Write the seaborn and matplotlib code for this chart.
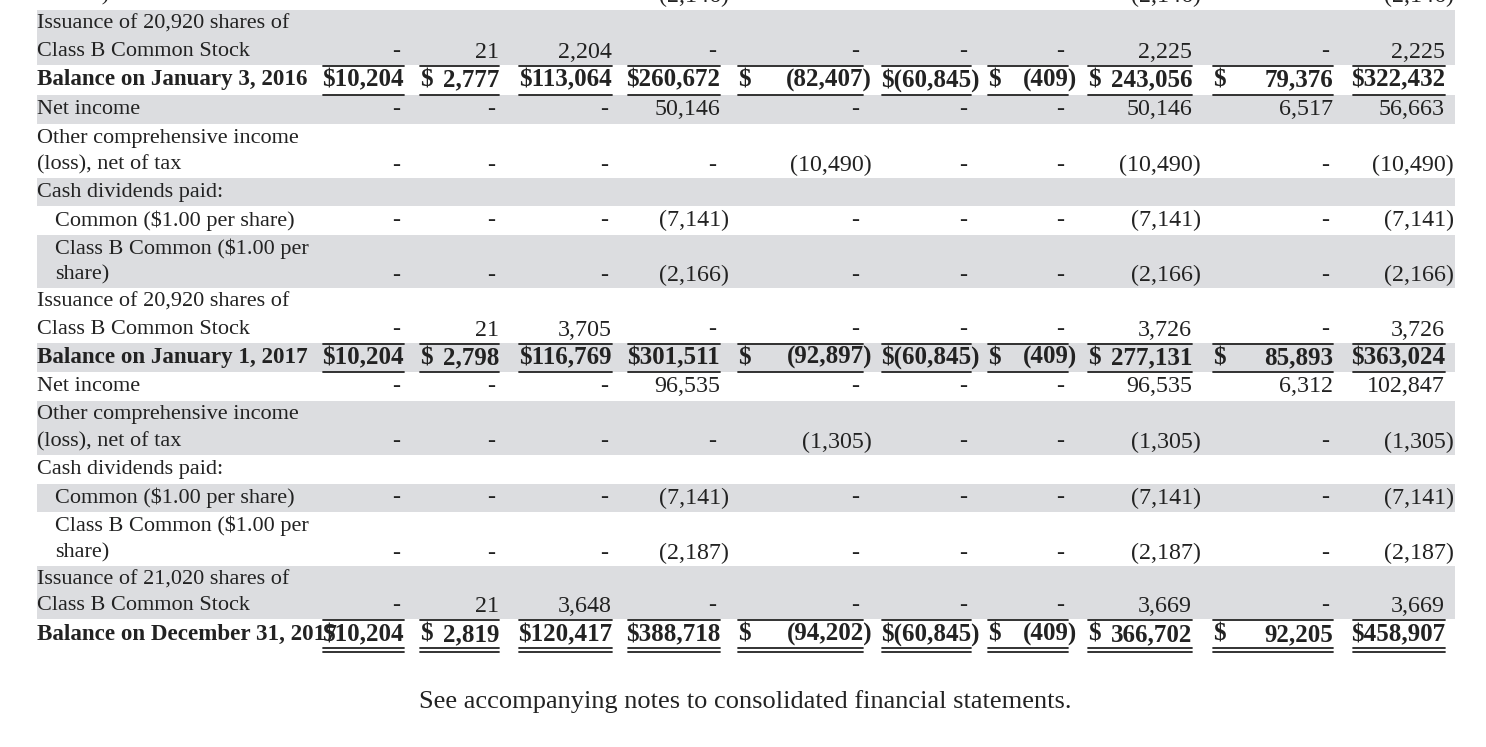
import matplotlib
matplotlib.use('Agg')
import matplotlib.pyplot as plt
import seaborn as sns

sns.set_theme(style='white')
plt.rcParams['font.family'] = ['Liberation Serif', 'DejaVu Serif']

# row labels (list of lines), indent flag, bold flag, shaded flag, top/bottom px
labels = [['share)'], ['Issuance of 20,920 shares of', 'Class B Common Stock'],
          ['Balance on January 3, 2016'], ['Net income'],
          ['Other comprehensive income', '(loss), net of tax'], ['Cash dividends paid:'],
          ['Common ($1.00 per share)'], ['Class B Common ($1.00 per', 'share)'],
          ['Issuance of 20,920 shares of', 'Class B Common Stock'],
          ['Balance on January 1, 2017'], ['Net income'],
          ['Other comprehensive income', '(loss), net of tax'], ['Cash dividends paid:'],
          ['Common ($1.00 per share)'], ['Class B Common ($1.00 per', 'share)'],
          ['Issuance of 21,020 shares of', 'Class B Common Stock'],
          ['Balance on December 31, 2017']]
indent = [1, 0, 0, 0, 0, 0, 1, 1, 0, 0, 0, 0, 0, 1, 1, 0, 0]
bold = [0, 0, 1, 0, 0, 0, 0, 0, 0, 1, 0, 0, 0, 0, 0, 0, 1]
shade = [0, 1, 0, 1, 0, 1, 0, 1, 0, 1, 0, 1, 0, 1, 0, 1, 0]
row_top = [-18, 10, 65, 95, 124, 178, 206, 235, 288, 343, 372, 401, 455, 484, 512, 566, 619]
row_bot = [10, 65, 95, 124, 178, 206, 235, 288, 343, 372, 401, 455, 484, 512, 566, 619, 650]

D = '-'
values = [
    [D, D, D, '(2,146)', D, D, D, '(2,146)', D, '(2,146)'],
    [D, '21', '2,204', D, D, D, D, '2,225', D, '2,225'],
    ['$10,204', '$ 2,777', '$113,064', '$260,672', '$ (82,407)', '$(60,845)', '$ (409)', '$ 243,056', '$ 79,376', '$322,432'],
    [D, D, D, '50,146', D, D, D, '50,146', '6,517', '56,663'],
    [D, D, D, D, '(10,490)', D, D, '(10,490)', D, '(10,490)'],
    [''] * 10,
    [D, D, D, '(7,141)', D, D, D, '(7,141)', D, '(7,141)'],
    [D, D, D, '(2,166)', D, D, D, '(2,166)', D, '(2,166)'],
    [D, '21', '3,705', D, D, D, D, '3,726', D, '3,726'],
    ['$10,204', '$ 2,798', '$116,769', '$301,511', '$ (92,897)', '$(60,845)', '$ (409)', '$ 277,131', '$ 85,893', '$363,024'],
    [D, D, D, '96,535', D, D, D, '96,535', '6,312', '102,847'],
    [D, D, D, D, '(1,305)', D, D, '(1,305)', D, '(1,305)'],
    [''] * 10,
    [D, D, D, '(7,141)', D, D, D, '(7,141)', D, '(7,141)'],
    [D, D, D, '(2,187)', D, D, D, '(2,187)', D, '(2,187)'],
    [D, '21', '3,648', D, D, D, D, '3,669', D, '3,669'],
    ['$10,204', '$ 2,819', '$120,417', '$388,718', '$ (94,202)', '$(60,845)', '$ (409)', '$ 366,702', '$ 92,205', '$458,907'],
]

# column extents (underline segments), px
col_left = [323, 420, 519, 628, 738, 882, 988, 1088, 1213, 1353]
col_right = [404, 499, 612, 720, 863, 971, 1068, 1192, 1333, 1445]

footnote = 'See accompanying notes to consolidated financial statements.'

fig = plt.figure(figsize=(14.86, 7.47), dpi=100)
ax = fig.add_axes([0, 0, 1, 1])
ax.set_xlim(0, 1486)
ax.set_ylim(747, 0)
ax.axis('off')

C = '#222222'
for i, lab in enumerate(labels):
    top, bot = row_top[i], row_bot[i]
    if shade[i]:
        ax.axhspan(top, bot, xmin=37 / 1486, xmax=1455 / 1486, color='#dcdde0', lw=0, zorder=0)
    if len(lab) == 1:
        ys = [(top + bot) / 2]
    else:
        ys = [top + 14, bot - 13]
    w = 'bold' if bold[i] else 'normal'
    fs_lab = 16.6 if bold[i] else 16
    fs_num = 18 if bold[i] else 17.3
    for line, y in zip(lab, ys):
        ax.text(37 + 18 * indent[i], y, line, fontsize=fs_lab, fontweight=w, va='center', ha='left', color=C)
    yv = ys[-1]
    for j, v in enumerate(values[i]):
        if not v:
            continue
        if v.startswith('$ '):
            ax.text(col_left[j], yv, '$', fontsize=fs_num, fontweight=w, va='center', ha='left', color=C)
            v = v[2:].strip()
        xr = col_right[j] + (9 if v.endswith(')') else 0)
        if v == D:
            xr -= 4
        ax.text(xr, yv, v, fontsize=fs_num, fontweight=w, va='center', ha='right', color=C)

# rules around balance rows
for i in range(len(labels)):
    if not bold[i]:
        continue
    for l, r in zip(col_left, col_right):
        ax.plot([l, r], [row_top[i] + 1, row_top[i] + 1], color=C, lw=1.3)
        if i == len(labels) - 1:
            ax.plot([l, r], [row_bot[i] - 2, row_bot[i] - 2], color=C, lw=1.3)
            ax.plot([l, r], [row_bot[i] + 2, row_bot[i] + 2], color=C, lw=1.3)
        else:
            ax.plot([l, r], [row_bot[i], row_bot[i]], color=C, lw=1.3)

ax.text(745, 702, footnote, fontsize=19, va='center', ha='center', color=C)

fig.savefig('out.png', dpi=100)
